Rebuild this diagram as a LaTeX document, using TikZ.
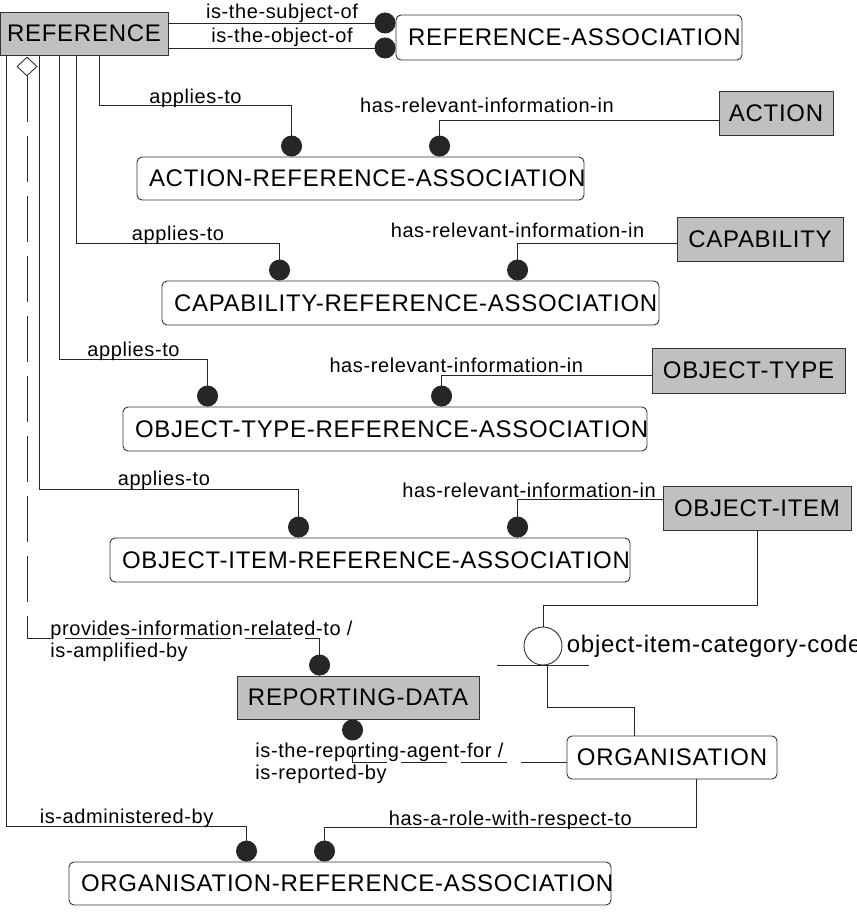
\documentclass[tikz,border=0pt]{standalone}
\usepackage{fontspec}
\setmainfont{Liberation Sans}
\newfontfamily\erfont[LetterSpace=3]{Liberation Sans}
\usetikzlibrary{arrows.meta, positioning, shapes.geometric}
\definecolor{EntityGray}{RGB}{192, 192, 192}
\newcommand{\assoctext}[2]{\hbox to #1{#2\hss}}

\begin{document}
\begin{tikzpicture}[x=1pt, y=-1pt, line width=0.9pt]
        \tikzstyle{entity} = [rectangle, draw=black!80, fill=EntityGray, minimum height=44pt, inner sep=0pt, font=\erfont\fontsize{24}{28}\selectfont]
        \tikzstyle{assoc} = [rectangle, rounded corners=5pt, draw=black!80, fill=white, minimum height=44pt, inner xsep=12pt, inner ysep=0pt, font=\erfont\fontsize{24}{28}\selectfont]
        \tikzstyle{rel} = [draw=black!85, -{Circle[length=21pt, width=21pt]}]
        \tikzstyle{line} = [draw=black!85]
        \tikzstyle{optional} = [dash pattern=on 46pt off 14pt]
        \tikzstyle{lbl} = [inner sep=0pt, font=\erfont\fontsize{20}{22}\selectfont]

        \useasboundingbox (0,0) rectangle (856,912);

        % Entities
        \node (reference) [entity, minimum width=168pt, minimum height=43pt] at (84,33.5) {REFERENCE};
        \node (action) [entity, minimum width=114pt] at (776,113) {ACTION};
        \node (capability) [entity, minimum width=166pt] at (760,239) {CAPABILITY};
        \node (objecttype) [entity, minimum width=193pt, minimum height=45pt] at (748.5,370.5) {OBJECT-TYPE};
        \node (objectitem) [entity, minimum width=188pt] at (757,508) {OBJECT-ITEM};
        \node (reporting) [entity, minimum width=242pt, minimum height=43pt] at (358,697.5) {REPORTING-DATA};
        \node (organisation) [assoc, inner xsep=0pt, minimum width=210pt, minimum height=43pt] at (672,757.5) {ORGANISATION};

        % Associations
        \node (refassoc) [assoc, minimum height=45pt] at (569,37.5) {\assoctext{322pt}{REFERENCE-ASSOCIATION}};
        \node (actionref) [assoc, minimum height=43pt] at (360.5,178.5) {\assoctext{423pt}{ACTION-REFERENCE-ASSOCIATION}};
        \node (capabilityref) [assoc] at (410.5,303) {\assoctext{473pt}{CAPABILITY-REFERENCE-ASSOCIATION}};
        \node (objecttyperef) [assoc] at (385,429) {\assoctext{500pt}{OBJECT-TYPE-REFERENCE-ASSOCIATION}};
        \node (objectitemref) [assoc] at (370,560) {\assoctext{496pt}{OBJECT-ITEM-REFERENCE-ASSOCIATION}};
        \node (orgref) [assoc, minimum height=43pt] at (340,883.5) {\assoctext{518pt}{ORGANISATION-REFERENCE-ASSOCIATION}};

        % Aggregation diamond and category
        \node (agg) [diamond, aspect=1, draw=black!80, fill=white, minimum width=20pt, minimum height=19pt, inner sep=0pt] at (27,66.5) {};
        \node (category) [circle, draw=black!80, fill=white, minimum size=38pt, inner sep=0pt] at (543,646) {};
        \node (catlabel) [right=4pt of category, inner sep=0pt, font=\erfont\fontsize{24}{28}\selectfont] {object-item-category-code};

        % Reference associations
        \draw [rel] ([yshift=10.5pt]reference.east) -- ([yshift=14.5pt]refassoc.west) node[lbl, midway, anchor=base, yshift=4pt] (lsubject) {is-the-subject-of};
        \draw [rel] ([yshift=-14.5pt]reference.east) -- ([yshift=-10.5pt]refassoc.west) node[lbl, midway, anchor=base, yshift=5pt] (lobject) {is-the-object-of};

        % applies-to
        \draw [rel] ([xshift=100pt]reference.south west) -- ++(0,50) -| node[lbl, pos=0.25, anchor=base, yshift=2pt] (lapplyaction) {applies-to} ([xshift=155pt]actionref.north west);
        \draw [rel] ([xshift=77pt]reference.south west) -- ++(0,188) -| node[lbl, pos=0.25, anchor=base, yshift=3pt] (lapplycap) {applies-to} ([xshift=118pt]capabilityref.north west);
        \draw [rel] ([xshift=60pt]reference.south west) -- ++(0,304) -| node[lbl, pos=0.25, anchor=base, yshift=3pt] (lapplytype) {applies-to} ([xshift=85pt]objecttyperef.north west);
        \draw [rel] ([xshift=40pt]reference.south west) -- ++(0,434) -| node[lbl, pos=0.24, anchor=base, yshift=4pt] (lapplyitem) {applies-to} ([xshift=189pt]objectitemref.north west);

        % has-relevant-information-in
        \draw [rel] ([yshift=-7pt]action.west) -| node[lbl, pos=0.415, anchor=base, yshift=7pt] (linfoaction) {has-relevant-information-in} ([xshift=303pt]actionref.north west);
        \draw [rel] ([yshift=-4pt]capability.west) -| node[lbl, pos=0.5, anchor=base, yshift=6pt] (linfocap) {has-relevant-information-in} ([xshift=356pt]capabilityref.north west);
        \draw [rel] ([yshift=-4.5pt]objecttype.west) -| node[lbl, pos=0.465, anchor=base, yshift=3pt] (linfotype) {has-relevant-information-in} ([xshift=319pt]objecttyperef.north west);
        \draw [rel] ([yshift=9pt]objectitem.west) -| node[lbl, pos=0.46, anchor=base, yshift=2pt] (linfoitem) {has-relevant-information-in} ([xshift=408pt]objectitemref.north west);

        % Reporting data
        \draw [rel, optional] (agg.south) -- ++(0,562) -| ([xshift=83pt]reporting.north west);
        \node (lprovides) [lbl, align=left, anchor=north west] at (50,620.5) {provides-information-related-to /\\is-amplified-by};
        \draw [rel, optional] ([yshift=-4.5pt]organisation.west) -| ([xshift=116pt]reporting.south west);
        \node (lreported) [lbl, align=left, anchor=north west] at (255,742.5) {is-the-reporting-agent-for /\\is-reported-by};

        % Object item category
        \draw [line] (objectitem.south) -- ++(0,75) -| (category.north);
        \draw [line] ([xshift=-46pt]category.south) -- ([xshift=46pt]category.south);
        \draw [line] ([xshift=4pt]category.south) -- ++(0,42) -| ([xshift=-38pt]organisation.north);

        % Organisation
        \draw [rel] ([xshift=24pt]organisation.south) -- ++(0,48) -| node[lbl, pos=0.25, anchor=base, yshift=2pt] (lrole) {has-a-role-with-respect-to} ([xshift=256pt]orgref.north west);
        \draw [rel] ([xshift=7pt]reference.south west) -- ++(0,771) -| node[lbl, pos=0.25, anchor=base, yshift=3pt] (ladmin) {is-administered-by} ([xshift=178pt]orgref.north west);
    \end{tikzpicture}
\end{document}
